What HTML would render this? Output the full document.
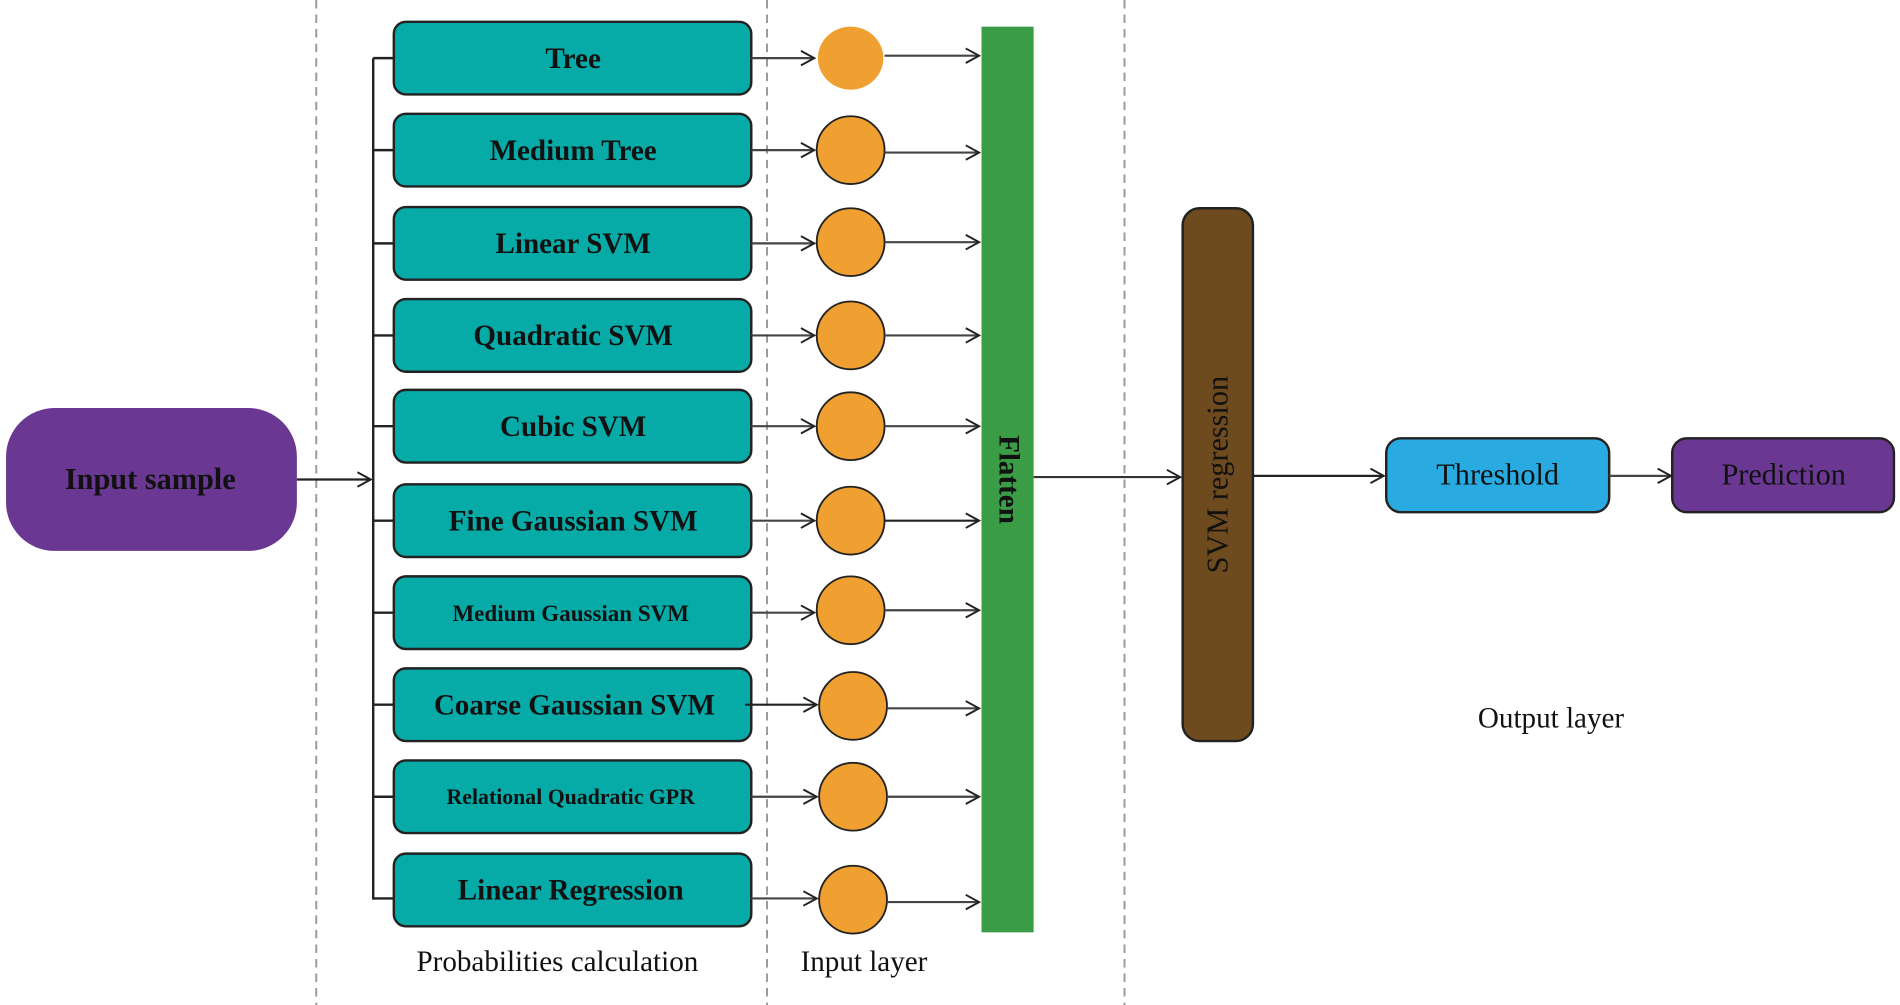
<!DOCTYPE html>
<html><head><meta charset="utf-8"><style>
html,body{margin:0;padding:0;background:#fff;}
svg{display:block;}
text{font-family:"Liberation Serif",serif;}
</style></head><body>
<svg width="1900" height="1005" viewBox="0 0 1568 830" preserveAspectRatio="none" xmlns="http://www.w3.org/2000/svg">
<defs>
<marker id="a" markerWidth="14" markerHeight="14" refX="12" refY="7" orient="auto" markerUnits="userSpaceOnUse">
<path d="M1,1 L12,7 L1,13" fill="none" stroke="#222" stroke-width="1.6"/>
</marker>
</defs>
<g stroke="#999" stroke-width="1.6" stroke-dasharray="7,5">
<line x1="261" y1="0" x2="261" y2="830"/>
<line x1="633" y1="0" x2="633" y2="830"/>
<line x1="928" y1="0" x2="928" y2="830"/>
</g>
<rect x="5" y="337" width="240" height="118" rx="40" fill="#6A3793"/>
<text x="124" y="404" text-anchor="middle" font-size="25" font-weight="bold" fill="#111">Input sample</text>
<line x1="245" y1="396" x2="306" y2="396" stroke="#222" stroke-width="1.8" marker-end="url(#a)"/>
<line x1="308" y1="48" x2="308" y2="743" stroke="#222" stroke-width="2"/>
<g id="rows" stroke-width="2">
</g>
<g font-weight="bold" text-anchor="middle" fill="#111">
<!-- rows generated statically -->
<g>
<line x1="308" y1="48" x2="325" y2="48" stroke="#222" stroke-width="2"/>
<rect x="325" y="18" width="295" height="60" rx="10" fill="#06ABA8" stroke="#222" stroke-width="2"/>
<text x="473" y="56" font-size="24">Tree</text>
<line x1="620" y1="48" x2="672" y2="48" stroke="#444" stroke-width="1.8" marker-end="url(#a)"/>
<ellipse cx="702" cy="48" rx="27" ry="26" fill="#F0A030"/>
<line x1="730" y1="46" x2="808" y2="46" stroke="#444" stroke-width="1.8" marker-end="url(#a)"/>
</g>
<g>
<line x1="308" y1="124" x2="325" y2="124" stroke="#222" stroke-width="2"/>
<rect x="325" y="94" width="295" height="60" rx="10" fill="#06ABA8" stroke="#222" stroke-width="2"/>
<text x="473" y="132" font-size="24">Medium Tree</text>
<line x1="620" y1="124" x2="672" y2="124" stroke="#444" stroke-width="1.8" marker-end="url(#a)"/>
<ellipse cx="702" cy="124" rx="28" ry="28" fill="#F0A030" stroke="#222" stroke-width="1.5"/>
<line x1="730" y1="126" x2="808" y2="126" stroke="#444" stroke-width="1.8" marker-end="url(#a)"/>
</g>
<g>
<line x1="308" y1="201" x2="325" y2="201" stroke="#222" stroke-width="2"/>
<rect x="325" y="171" width="295" height="60" rx="10" fill="#06ABA8" stroke="#222" stroke-width="2"/>
<text x="473" y="209" font-size="24">Linear SVM</text>
<line x1="620" y1="201" x2="672" y2="201" stroke="#444" stroke-width="1.8" marker-end="url(#a)"/>
<ellipse cx="702" cy="200" rx="28" ry="28" fill="#F0A030" stroke="#222" stroke-width="1.5"/>
<line x1="730" y1="200" x2="808" y2="200" stroke="#444" stroke-width="1.8" marker-end="url(#a)"/>
</g>
<g>
<line x1="308" y1="277" x2="325" y2="277" stroke="#222" stroke-width="2"/>
<rect x="325" y="247" width="295" height="60" rx="10" fill="#06ABA8" stroke="#222" stroke-width="2"/>
<text x="473" y="285" font-size="24">Quadratic SVM</text>
<line x1="620" y1="277" x2="672" y2="277" stroke="#444" stroke-width="1.8" marker-end="url(#a)"/>
<ellipse cx="702" cy="277" rx="28" ry="28" fill="#F0A030" stroke="#222" stroke-width="1.5"/>
<line x1="730" y1="277" x2="808" y2="277" stroke="#444" stroke-width="1.8" marker-end="url(#a)"/>
</g>
<g>
<line x1="308" y1="352" x2="325" y2="352" stroke="#222" stroke-width="2"/>
<rect x="325" y="322" width="295" height="60" rx="10" fill="#06ABA8" stroke="#222" stroke-width="2"/>
<text x="473" y="360" font-size="24">Cubic SVM</text>
<line x1="620" y1="352" x2="672" y2="352" stroke="#444" stroke-width="1.8" marker-end="url(#a)"/>
<ellipse cx="702" cy="352" rx="28" ry="28" fill="#F0A030" stroke="#222" stroke-width="1.5"/>
<line x1="730" y1="352" x2="808" y2="352" stroke="#444" stroke-width="1.8" marker-end="url(#a)"/>
</g>
<g>
<line x1="308" y1="430" x2="325" y2="430" stroke="#222" stroke-width="2"/>
<rect x="325" y="400" width="295" height="60" rx="10" fill="#06ABA8" stroke="#222" stroke-width="2"/>
<text x="473" y="438" font-size="24">Fine Gaussian SVM</text>
<line x1="620" y1="430" x2="672" y2="430" stroke="#444" stroke-width="1.8" marker-end="url(#a)"/>
<ellipse cx="702" cy="430" rx="28" ry="28" fill="#F0A030" stroke="#222" stroke-width="1.5"/>
<line x1="730" y1="430" x2="808" y2="430" stroke="#222" stroke-width="1.8" marker-end="url(#a)"/>
</g>
<g>
<line x1="308" y1="506" x2="325" y2="506" stroke="#222" stroke-width="2"/>
<rect x="325" y="476" width="295" height="60" rx="10" fill="#06ABA8" stroke="#222" stroke-width="2"/>
<text x="471" y="513" font-size="19">Medium Gaussian SVM</text>
<line x1="620" y1="506" x2="672" y2="506" stroke="#444" stroke-width="1.8" marker-end="url(#a)"/>
<ellipse cx="702" cy="504" rx="28" ry="28" fill="#F0A030" stroke="#222" stroke-width="1.5"/>
<line x1="730" y1="504" x2="808" y2="504" stroke="#444" stroke-width="1.8" marker-end="url(#a)"/>
</g>
<g>
<line x1="308" y1="582" x2="325" y2="582" stroke="#222" stroke-width="2"/>
<rect x="325" y="552" width="295" height="60" rx="10" fill="#06ABA8" stroke="#222" stroke-width="2"/>
<text x="474" y="590" font-size="24">Coarse Gaussian SVM</text>
<line x1="615" y1="582" x2="674" y2="582" stroke="#222" stroke-width="1.8" marker-end="url(#a)"/>
<ellipse cx="704" cy="583" rx="28" ry="28" fill="#F0A030" stroke="#222" stroke-width="1.5"/>
<line x1="732" y1="585" x2="808" y2="585" stroke="#444" stroke-width="1.8" marker-end="url(#a)"/>
</g>
<g>
<line x1="308" y1="658" x2="325" y2="658" stroke="#222" stroke-width="2"/>
<rect x="325" y="628" width="295" height="60" rx="10" fill="#06ABA8" stroke="#222" stroke-width="2"/>
<text x="471" y="664" font-size="18">Relational Quadratic GPR</text>
<line x1="620" y1="658" x2="674" y2="658" stroke="#444" stroke-width="1.8" marker-end="url(#a)"/>
<ellipse cx="704" cy="658" rx="28" ry="28" fill="#F0A030" stroke="#222" stroke-width="1.5"/>
<line x1="732" y1="658" x2="808" y2="658" stroke="#444" stroke-width="1.8" marker-end="url(#a)"/>
</g>
<g>
<line x1="308" y1="742" x2="325" y2="742" stroke="#222" stroke-width="2"/>
<rect x="325" y="705" width="295" height="60" rx="10" fill="#06ABA8" stroke="#222" stroke-width="2"/>
<text x="471" y="743" font-size="24">Linear Regression</text>
<line x1="620" y1="742" x2="674" y2="742" stroke="#444" stroke-width="1.8" marker-end="url(#a)"/>
<ellipse cx="704" cy="743" rx="28" ry="28" fill="#F0A030" stroke="#222" stroke-width="1.5"/>
<line x1="732" y1="745" x2="808" y2="745" stroke="#444" stroke-width="1.8" marker-end="url(#a)"/>
</g>
</g>
<rect x="810" y="22" width="43" height="748" fill="#3A9C45"/>
<text transform="translate(825,396) rotate(90)" text-anchor="middle" font-size="24" font-weight="bold" fill="#111">Flatten</text>
<line x1="853" y1="394" x2="974" y2="394" stroke="#333" stroke-width="1.8" marker-end="url(#a)"/>
<rect x="976" y="172" width="58" height="440" rx="14" fill="#6E4A1F" stroke="#222" stroke-width="2"/>
<text transform="translate(1013,392) rotate(-90)" text-anchor="middle" font-size="25" fill="#111">SVM regression</text>
<line x1="1034" y1="393" x2="1142" y2="393" stroke="#222" stroke-width="1.8" marker-end="url(#a)"/>
<rect x="1144" y="362" width="184" height="61" rx="12" fill="#29ABE2" stroke="#222" stroke-width="2"/>
<text x="1236" y="400" text-anchor="middle" font-size="25" fill="#111">Threshold</text>
<line x1="1328" y1="393" x2="1379" y2="393" stroke="#444" stroke-width="1.8" marker-end="url(#a)"/>
<rect x="1380" y="362" width="183" height="61" rx="12" fill="#6A3793" stroke="#222" stroke-width="2"/>
<text x="1472" y="400" text-anchor="middle" font-size="25" fill="#111">Prediction</text>
<g font-size="24" text-anchor="middle" fill="#111">
<text x="460" y="802">Probabilities calculation</text>
<text x="713" y="802">Input layer</text>
<text x="1280" y="601">Output layer</text>
</g>
</svg>
</body></html>
